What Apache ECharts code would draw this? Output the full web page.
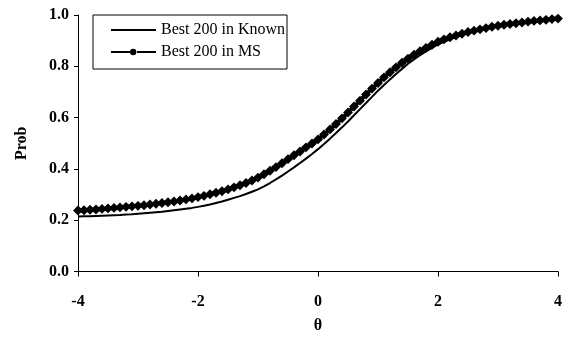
<!DOCTYPE html>
<html>
<head>
<meta charset="utf-8">
<script src="https://cdn.jsdelivr.net/npm/echarts@6/dist/echarts.min.js"></script>
<style>html,body{margin:0;padding:0;background:#fff;}#c{width:565px;height:346px;}</style>
</head>
<body>
<div id="c"></div>
<script>
var thetaStart = -4, thetaStep = 0.1;
var seriesNames = ["Best 200 in Known", "Best 200 in MS"];
var known = [
0.214,0.215,0.215,0.216,0.217,
0.218,0.219,0.220,0.222,0.223,
0.225,0.227,0.229,0.231,0.233,
0.236,0.239,0.242,0.245,0.248,
0.252,0.256,0.261,0.267,0.273,
0.280,0.287,0.294,0.302,0.311,
0.320,0.332,0.345,0.359,0.374,
0.390,0.406,0.423,0.440,0.458,
0.477,0.497,0.518,0.540,0.562,
0.585,0.609,0.633,0.657,0.681,
0.705,0.727,0.749,0.770,0.790,
0.810,0.827,0.843,0.858,0.872,
0.885,0.895,0.905,0.914,0.922,
0.930,0.936,0.941,0.946,0.951,
0.956,0.960,0.964,0.967,0.970,
0.973,0.976,0.978,0.981,0.983,
0.985];
var ms = [
0.238,0.239,0.241,0.242,0.244,
0.246,0.248,0.250,0.252,0.254,
0.256,0.258,0.261,0.264,0.267,
0.270,0.273,0.277,0.281,0.285,
0.290,0.295,0.301,0.307,0.313,
0.320,0.328,0.336,0.345,0.355,
0.366,0.379,0.393,0.407,0.422,
0.438,0.453,0.468,0.484,0.499,
0.515,0.534,0.554,0.575,0.597,
0.620,0.643,0.666,0.690,0.713,
0.735,0.757,0.777,0.796,0.814,
0.830,0.845,0.859,0.872,0.884,
0.896,0.905,0.913,0.920,0.927,
0.934,0.939,0.944,0.949,0.954,
0.958,0.962,0.965,0.968,0.971,
0.974,0.977,0.979,0.981,0.984,
0.986];
var xTicks = {min: -4, max: 4, interval: 2};
var yTicks = {min: 0, max: 1, interval: 0.2};

function pairs(arr){
  return arr.map(function(v,i){ return [Math.round((thetaStart + i*thetaStep)*10)/10, v]; });
}
var FONT = '"Liberation Serif","Times New Roman",serif';
var ICON_LINE = 'path://M0,0 M45,12 M0,5 L45,5 L45,7 L0,7 Z';
var ICON_LINE_DOT = 'path://M0,0 M45,12 M0,5 L19,5 L19,7 L0,7 Z M26,5 L45,5 L45,7 L26,7 Z M19,6 A3.2,3.2 0 1 1 25.4,6 A3.2,3.2 0 1 1 19,6 Z';
var chart = echarts.init(document.getElementById('c'), null, {renderer:'canvas'});
chart.setOption({
  animation:false,
  backgroundColor:'#fff',
  grid:{left:78, right:7, top:15, bottom:74.5},
  legend:{
    left:93, top:15, orient:'vertical',
    padding:[7,2,9,18],
    itemGap:6, itemWidth:45, itemHeight:12,
    backgroundColor:'#fff', borderColor:'#000', borderWidth:1,
    textStyle:{fontFamily:FONT, fontSize:16, color:'#000'},
    data:[{name:seriesNames[0], icon:ICON_LINE},{name:seriesNames[1], icon:ICON_LINE_DOT}]
  },
  xAxis:{
    type:'value', min:xTicks.min, max:xTicks.max, interval:xTicks.interval,
    name:'θ', nameLocation:'middle', nameGap:46,
    nameTextStyle:{fontFamily:FONT, fontSize:16, fontWeight:'bold', color:'#000'},
    axisLine:{onZero:false, lineStyle:{color:'#000', width:1}},
    axisTick:{show:true, length:5, lineStyle:{color:'#000'}},
    axisLabel:{fontFamily:FONT, fontSize:16, fontWeight:'bold', color:'#000', margin:22},
    splitLine:{show:false}
  },
  yAxis:{
    type:'value', min:yTicks.min, max:yTicks.max, interval:yTicks.interval,
    name:'Prob', nameLocation:'middle', nameGap:48,
    nameTextStyle:{fontFamily:FONT, fontSize:16, fontWeight:'bold', color:'#000'},
    axisLine:{show:true, onZero:false, lineStyle:{color:'#000', width:1}},
    axisTick:{show:true, length:4, lineStyle:{color:'#000'}},
    axisLabel:{fontFamily:FONT, fontSize:16, fontWeight:'bold', color:'#000', margin:9,
      formatter:function(v){return v.toFixed(1);}},
    splitLine:{show:false}
  },
  series:[
    {name:seriesNames[0], type:'line', data:pairs(known), symbol:'none', smooth:false,
     lineStyle:{color:'#000', width:2}, itemStyle:{color:'#000'}, z:2},
    {name:seriesNames[1], type:'line', data:pairs(ms), symbol:'rect', symbolSize:7, symbolRotate:45,
     showAllSymbol:true,
     lineStyle:{color:'#000', width:4}, itemStyle:{color:'#000'}, z:3}
  ]
});
</script>
</body>
</html>
